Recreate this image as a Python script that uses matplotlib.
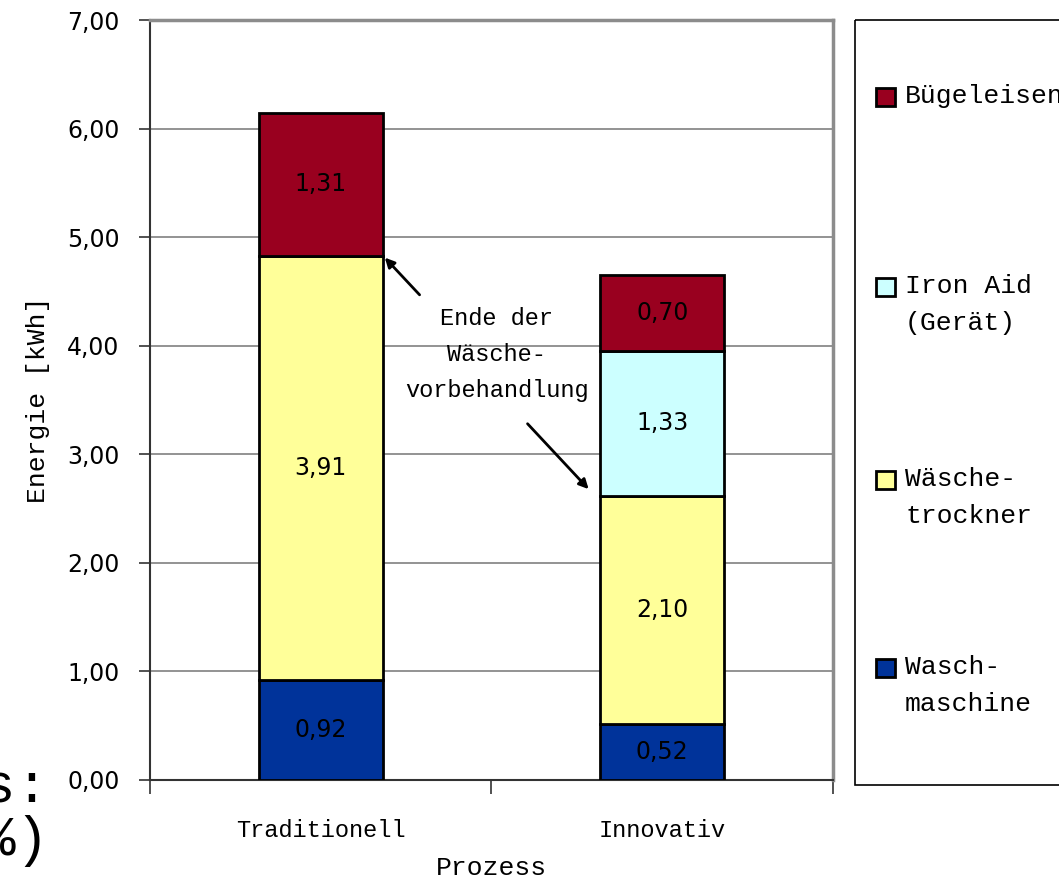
import matplotlib
matplotlib.use("Agg")
import matplotlib.pyplot as plt
from matplotlib.patches import Rectangle

# Daten
kategorien = ["Traditionell", "Innovativ"]
serien = ["Waschmaschine", "Wäschetrockner", "Iron Aid (Gerät)", "Bügeleisen"]
legende_text = ["Wasch-\nmaschine", "Wäsche-\ntrockner", "Iron Aid\n(Gerät)", "Bügeleisen"]
werte = {
    "Waschmaschine":    [0.92, 0.52],
    "Wäschetrockner":   [3.91, 2.10],
    "Iron Aid (Gerät)": [0.00, 1.33],
    "Bügeleisen":       [1.31, 0.70],
}
farben = ["#00339A", "#FFFF99", "#CCFFFF", "#99001F"]
y_ticks = [0, 1, 2, 3, 4, 5, 6, 7]

MONO = "Liberation Mono"
SANS = "DejaVu Sans"

fig = plt.figure(figsize=(10.59, 8.83), dpi=100)
W, H = 1059.0, 883.0
ax = fig.add_axes([150 / W, (H - 780) / H, (833 - 150) / W, 760 / H])

x = [0.5, 1.5]
breite = 0.363
unten = [0.0, 0.0]
for name, farbe in zip(serien, farben):
    v = werte[name]
    ax.bar(x, v, breite, bottom=unten, color=farbe, edgecolor="black",
           linewidth=2, zorder=3)
    for xi, vi, bi in zip(x, v, unten):
        if vi > 0:
            ax.text(xi, bi + vi / 2, f"{vi:.2f}".replace(".", ","),
                    ha="center", va="center", fontsize=17, family=SANS,
                    color="black", zorder=4)
    unten = [a + b for a, b in zip(unten, v)]

ax.set_xlim(0, 2)
ax.set_ylim(0, 7)
ax.set_yticks(y_ticks)
ax.set_yticklabels([f"{t:.2f}".replace(".", ",") for t in y_ticks],
                   fontsize=17, family=SANS)
ax.set_xticks(x)
ax.set_xticklabels(kategorien, fontsize=17, family=MONO)
ax.set_xticks([0, 1, 2], minor=True)
ax.tick_params(axis="x", which="major", length=0, pad=28)
ax.tick_params(axis="x", which="minor", length=10, width=1.2, color="#333333")
ax.tick_params(axis="y", length=8, width=1.2, color="#333333", pad=14)
ax.grid(axis="y", color="#808080", linewidth=1.2, zorder=0)

for s in ["left", "bottom"]:
    ax.spines[s].set_color("#333333")
    ax.spines[s].set_linewidth(1.5)
for s in ["top", "right"]:
    ax.spines[s].set_color("#8C8C8C")
    ax.spines[s].set_linewidth(2.5)

ax.set_ylabel("Energie [kWh]", fontsize=19, family=MONO, labelpad=12)
ax.set_xlabel("Prozess", fontsize=19, family=MONO, labelpad=10)

# Annotation
ax.text(1.015, 3.92, "Ende der\nWäsche-\nvorbehandlung", ha="center",
        va="center", fontsize=17, family=MONO, linespacing=1.7, zorder=5)
ax.annotate("", xy=(0.682, 4.83), xytext=(0.795, 4.45),
            arrowprops=dict(arrowstyle="-|>", color="black", lw=2,
                            mutation_scale=14), zorder=5)
ax.annotate("", xy=(1.29, 2.66), xytext=(1.1, 3.3),
            arrowprops=dict(arrowstyle="-|>", color="black", lw=2,
                            mutation_scale=14), zorder=5)

# Legende
lax = fig.add_axes([855 / W, (H - 785) / H, 300 / W, 765 / H])
lax.set_xlim(0, 300)
lax.set_ylim(765, 0)
lax.axis("off")
lax.add_patch(Rectangle((0, 0), 400, 765, fill=False, edgecolor="black",
                        linewidth=1.2, clip_on=False))
positionen = [668, 480, 287, 97]
for farbe, txt, yp in zip(farben, legende_text, positionen):
    yl = yp - 20
    lax.add_patch(Rectangle((21, yl - 9), 19, 18, facecolor=farbe,
                            edgecolor="black", linewidth=2))
    lax.text(50, yl - 13, txt, ha="left", va="top", fontsize=19,
             family=MONO, linespacing=1.7)

# abgeschnittener Text links unten
fig.text(49 / W, (H - 802) / H, "Basis:", ha="right", va="baseline",
         fontsize=40, family=MONO)
fig.text(49 / W, (H - 855) / H, "(100 %)", ha="right", va="baseline",
         fontsize=40, family=MONO)

fig.savefig("out.png", dpi=100)
